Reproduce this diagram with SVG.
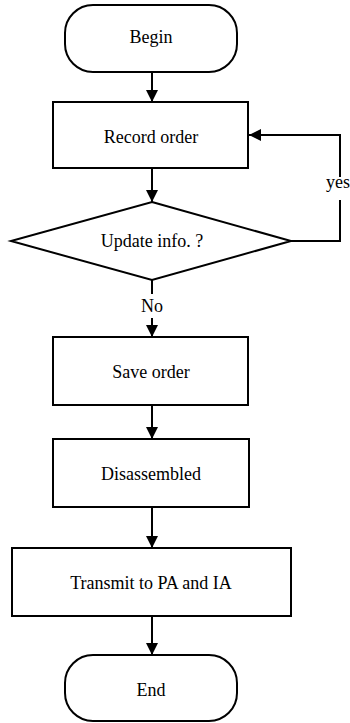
<svg xmlns="http://www.w3.org/2000/svg" width="350" height="723" viewBox="0 0 350 723">
<defs>
<marker id="ah" viewBox="0 0 12 12" refX="12" refY="6" markerWidth="12" markerHeight="12" markerUnits="userSpaceOnUse" orient="auto">
<path d="M0,0 L12,6 L0,12 Z" fill="#000"/>
</marker>
<style>
.s{fill:#fff;stroke:#000;stroke-width:2}
.t{font-family:'Liberation Serif',serif;font-size:18px;fill:#000;text-anchor:middle}
.c{fill:none;stroke:#000;stroke-width:2}
</style>
</defs>
<rect width="350" height="723" fill="#fff"/>
<g id="connectors">
<path class="c" d="M152,72 V102" marker-end="url(#ah)"/>
<path class="c" d="M152,168 V202" marker-end="url(#ah)"/>
<path class="c" d="M291,241 H340 V200"/>
<path class="c" d="M340,177 V135 H249" marker-end="url(#ah)"/>
<text class="t" x="326" y="188" style="text-anchor:start">yes</text>
<path class="c" d="M152,280 V294"/>
<text class="t" x="152" y="312">No</text>
<path class="c" d="M152,318 V337" marker-end="url(#ah)"/>
<path class="c" d="M152,405 V439" marker-end="url(#ah)"/>
<path class="c" d="M152,507 V548" marker-end="url(#ah)"/>
<path class="c" d="M152,616 V655" marker-end="url(#ah)"/>
</g>
<g id="begin">
<rect class="s" x="65" y="5" width="172" height="67" rx="28" ry="28"/>
<text class="t" x="151" y="43">Begin</text>
</g>
<g id="record">
<rect class="s" x="53" y="102" width="195" height="66"/>
<text class="t" x="151" y="143">Record order</text>
</g>
<g id="update">
<polygon class="s" points="152,202 291,241 152,280 11,241"/>
<text class="t" x="152" y="247">Update info. ?</text>
</g>
<g id="save">
<rect class="s" x="53" y="337" width="195" height="68"/>
<text class="t" x="151" y="378">Save order</text>
</g>
<g id="disassembled">
<rect class="s" x="53" y="439" width="196" height="68"/>
<text class="t" x="151" y="480">Disassembled</text>
</g>
<g id="transmit">
<rect class="s" x="12" y="548" width="279" height="68"/>
<text class="t" x="151" y="589">Transmit to PA and IA</text>
</g>
<g id="end">
<rect class="s" x="65" y="655" width="172" height="66" rx="28" ry="28"/>
<text class="t" x="151" y="696">End</text>
</g>
</svg>
